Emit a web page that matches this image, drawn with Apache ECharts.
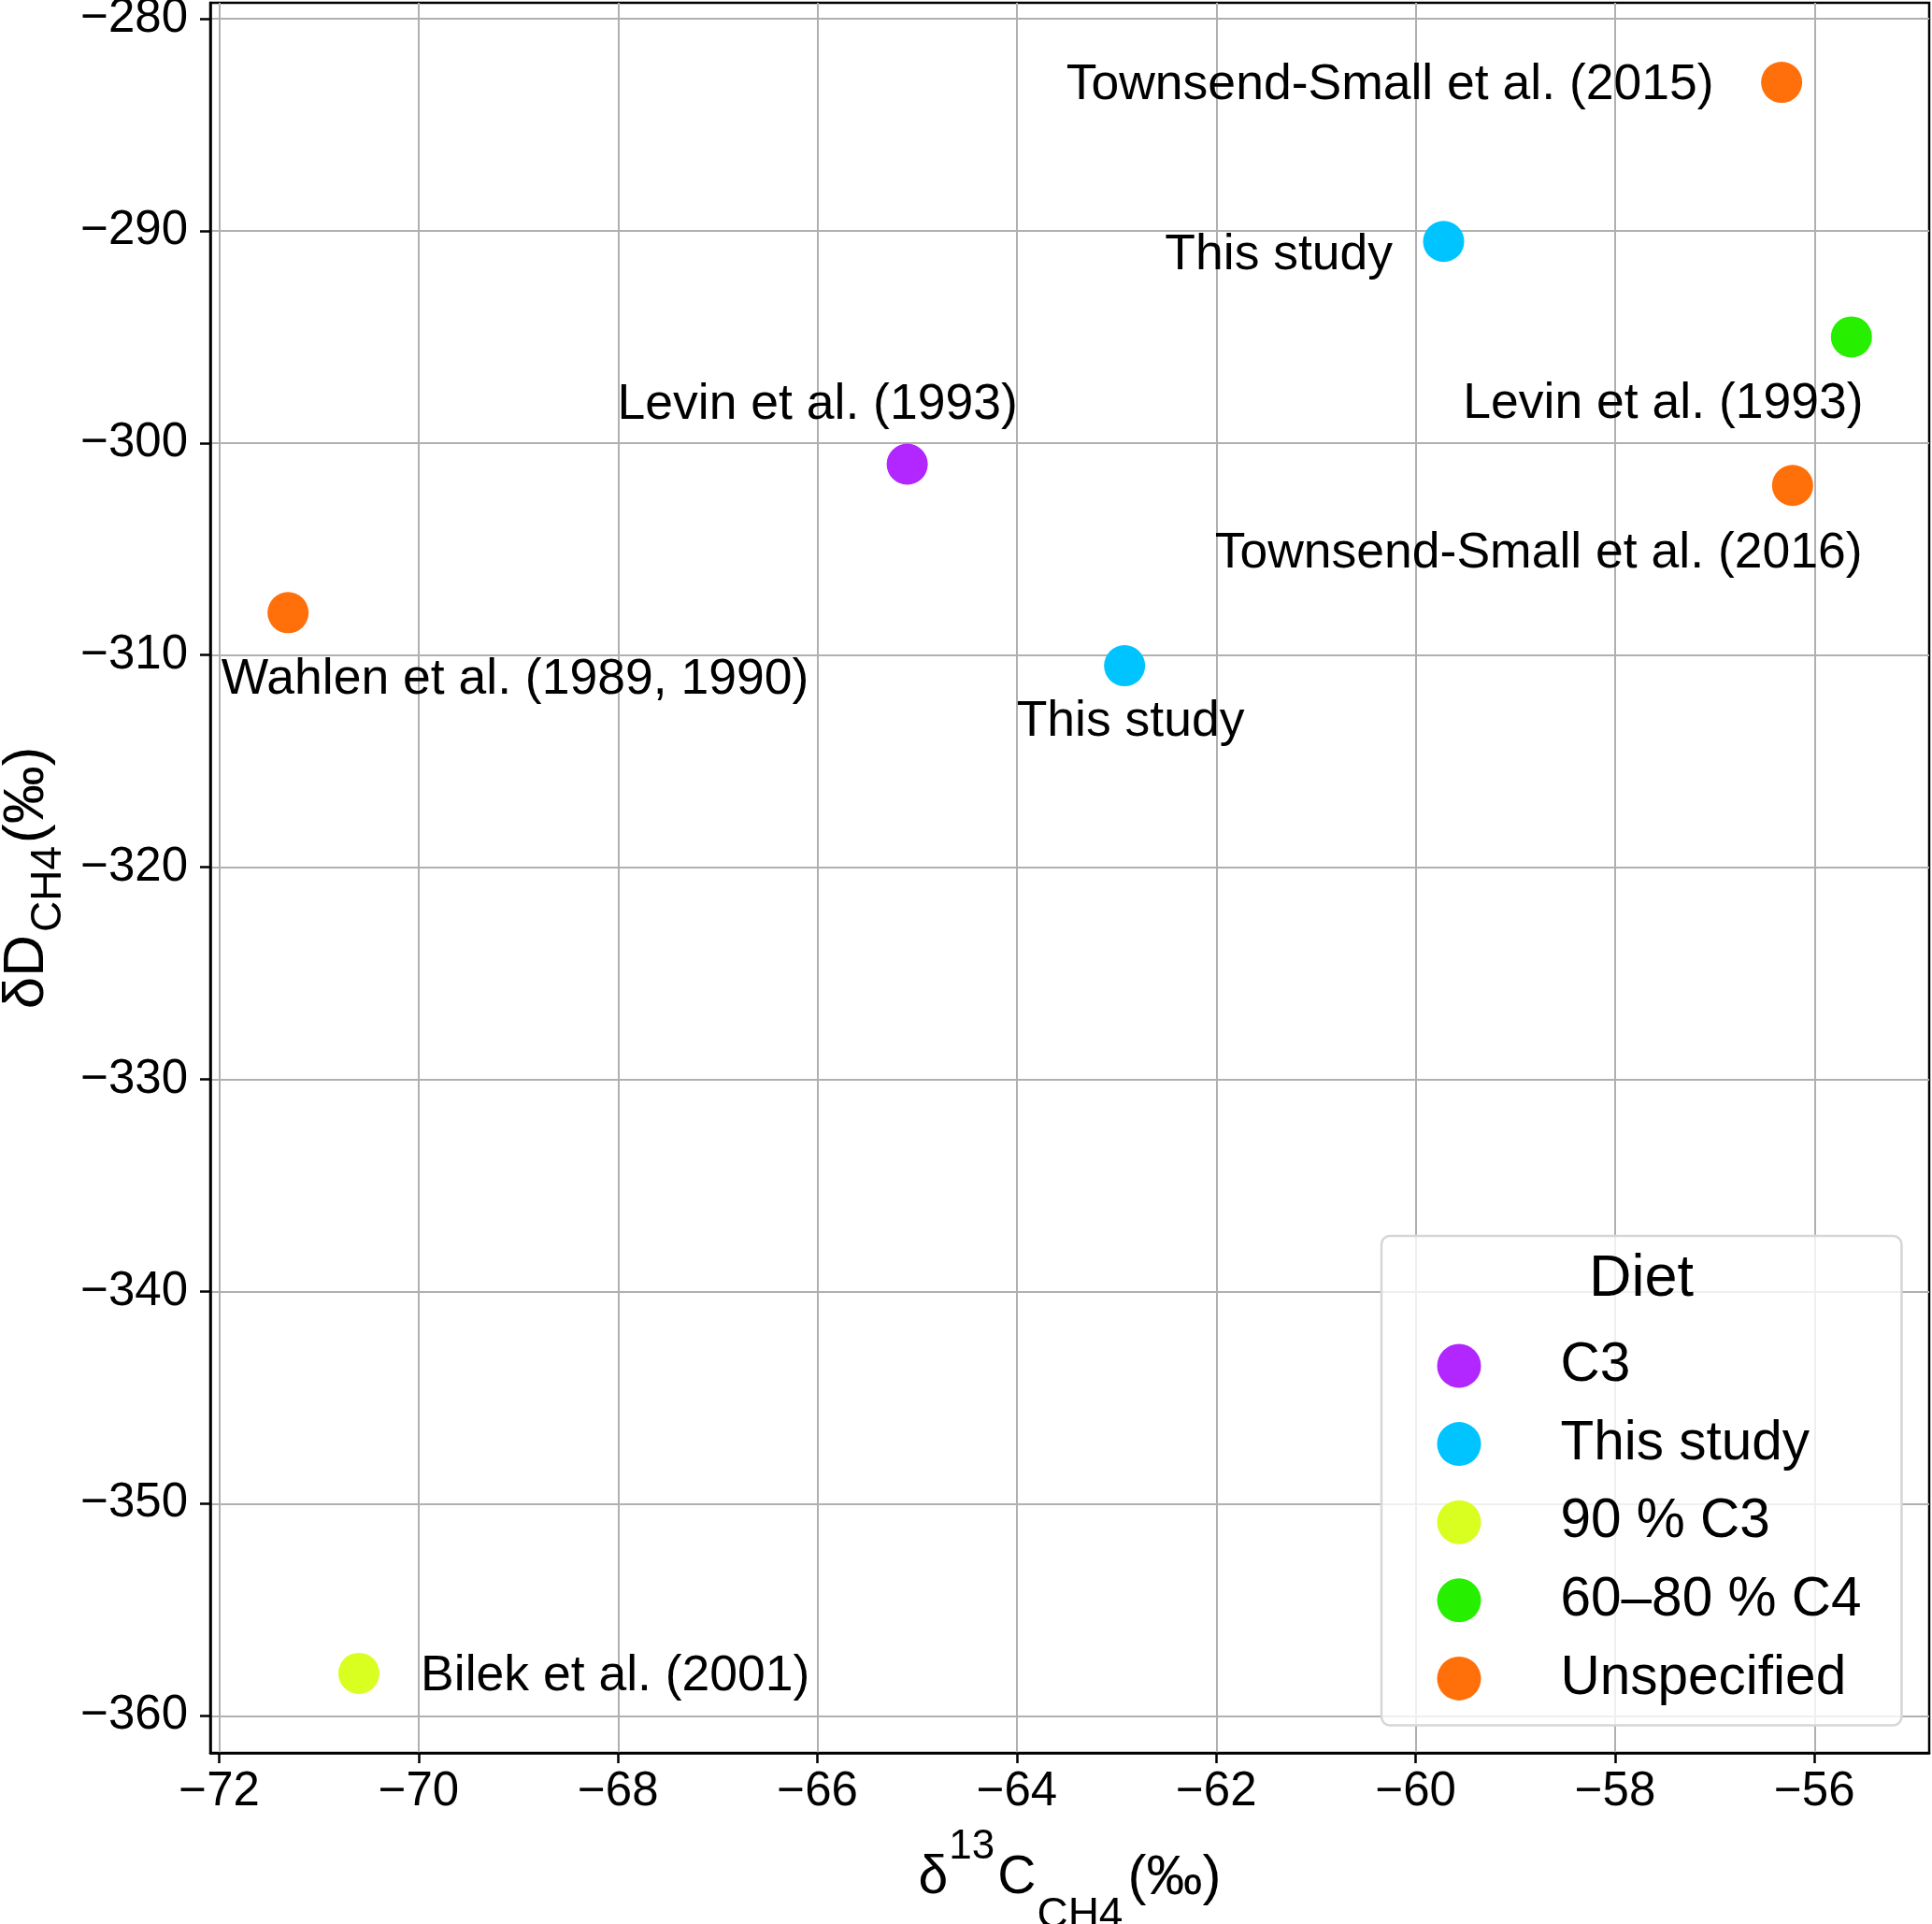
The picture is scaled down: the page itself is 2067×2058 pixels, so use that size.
<!DOCTYPE html>
<html>
<head>
<meta charset="utf-8">
<script src="https://cdn.jsdelivr.net/npm/echarts@6/dist/echarts.min.js"></script>
<style>
  html, body { margin: 0; padding: 0; background: #ffffff; }
  #chart { width: 2067px; height: 2058px; }
</style>
</head>
<body>
<div id="chart"></div>
<script>
// ---- data ----
const dietNames = ['C3', 'This study', '90 % C3', '60–80 % C4', 'Unspecified'];
const dietColors = ['#b226ff', '#00c4ff', '#d8ff1f', '#26ef00', '#ff6f0a'];
const c3Points = [[-65.1, -301.0]];
const thisStudyPoints = [[-59.72, -290.5], [-62.92, -310.5]];
const c3_90Points = [[-70.6, -358.0]];
const c4Points = [[-55.63, -295.0]];
const unspecifiedPoints = [[-56.33, -283.0], [-56.22, -302.0], [-71.31, -308.0]];

const annoText = ['Townsend-Small et al. (2015)', 'This study', 'Levin et al. (1993)', 'Levin et al. (1993)',
                  'Townsend-Small et al. (2016)', 'Wahlen et al. (1989, 1990)', 'This study', 'Bilek et al. (2001)'];
const annoX = [-57.01, -60.23, -55.51, -66.0, -55.52, -71.98, -62.86, -69.98];
const annoY = [-283.16, -291.18, -298.16, -298.19, -305.22, -311.18, -313.17, -358.16];
const annoAnchor = ['right', 'right', 'right', 'center', 'right', 'left', 'center', 'left'];

const xTicks = [-72, -70, -68, -66, -64, -62, -60, -58, -56];
const yTicks = [-360, -350, -340, -330, -320, -310, -300, -290, -280];
const xRange = [-72.09, -54.85];
const yRange = [-361.75, -279.25];

// ---- chart ----
const FONT = "'Liberation Sans', Arial, Helvetica, sans-serif";
const minus = v => String(v).replace('-', '\u2212');
const groups = [c3Points, thisStudyPoints, c3_90Points, c4Points, unspecifiedPoints];

const chart = echarts.init(document.getElementById('chart'), null, { renderer: 'canvas' });

const series = groups.map((pts, i) => ({
  name: dietNames[i],
  type: 'scatter',
  data: pts,
  symbol: 'circle',
  symbolSize: 44,
  itemStyle: { color: dietColors[i], opacity: 1 },
  emphasis: { disabled: true },
  z: 3
}));

series.push({
  name: 'annotations',
  type: 'scatter',
  silent: true,
  symbolSize: 0,
  itemStyle: { color: 'rgba(0,0,0,0)' },
  data: annoText.map((t, i) => ({
    value: [annoX[i], annoY[i]],
    name: t,
    label: { align: annoAnchor[i] }
  })),
  label: {
    show: true,
    position: [0, 0],
    formatter: p => p.name,
    color: '#000000',
    opacity: 1,
    textBorderWidth: 0,
    fontSize: 53.5,
    fontFamily: FONT,
    verticalAlign: 'middle'
  },
  emphasis: { disabled: true },
  z: 4
});

const option = {
  backgroundColor: '#ffffff',
  animation: false,
  grid: {
    left: 225, right: 3, top: 3, bottom: 183,
    show: true, borderColor: '#000', borderWidth: 2.5,
    backgroundColor: 'transparent',
    containLabel: false,
    outerBoundsMode: 'none'
  },
  xAxis: {
    type: 'value',
    min: xRange[0], max: xRange[1],
    splitNumber: 8,
    axisLine: { show: true, onZero: false, lineStyle: { color: '#000', width: 2.5 } },
    axisTick: { show: true, inside: false, length: 11, lineStyle: { color: '#000', width: 2.5 }, customValues: xTicks },
    axisLabel: { customValues: xTicks, formatter: minus, fontSize: 51, color: '#000', fontFamily: FONT, margin: 16 },
    splitLine: { show: true, lineStyle: { color: '#b0b0b0', width: 2 } },
    name: '{d|δ}{sup|13}{d|C}{sub|CH4}{p|(‰)}',
    nameLocation: 'middle',
    nameGap: 71,
    nameTextStyle: {
      color: '#000', fontFamily: FONT,
      rich: {
        d: { fontSize: 57, fontFamily: FONT, color: '#000', verticalAlign: 'middle' },
        p: { fontSize: 60, fontFamily: FONT, color: '#000', verticalAlign: 'middle', padding: [0, 0, 0, 3] },
        sup: { fontSize: 44, fontFamily: FONT, color: '#000', verticalAlign: 'middle', padding: [0, 3, 67, 1] },
        sub: { fontSize: 46, fontFamily: FONT, color: '#000', verticalAlign: 'middle', padding: [80, 2, 0, 1] }
      }
    }
  },
  yAxis: {
    type: 'value',
    min: yRange[0], max: yRange[1],
    splitNumber: 8,
    axisLine: { show: true, onZero: false, lineStyle: { color: '#000', width: 2.5 } },
    axisTick: { show: true, inside: false, length: 11, lineStyle: { color: '#000', width: 2.5 }, customValues: yTicks },
    axisLabel: { customValues: yTicks, formatter: minus, fontSize: 51, color: '#000', fontFamily: FONT, margin: 24 },
    splitLine: { show: true, lineStyle: { color: '#b0b0b0', width: 2 } },
    name: '{d|δD}{sub|CH4}{d|(‰)}',
    nameLocation: 'middle',
    nameGap: 150,
    nameTextStyle: {
      color: '#000', fontFamily: FONT,
      rich: {
        d: { fontSize: 62, fontFamily: FONT, color: '#000', verticalAlign: 'middle' },
        sub: { fontSize: 46, fontFamily: FONT, color: '#000', verticalAlign: 'middle', padding: [47, 3, 0, 3] }
      }
    }
  },
  legend: {
    data: dietNames,
    orient: 'vertical',
    left: 1478, top: 1322,
    icon: 'circle',
    itemWidth: 47, itemHeight: 47,
    itemGap: 23.6,
    padding: [109, 43, 20, 59.5],
    backgroundColor: 'rgba(255,255,255,0.8)',
    borderColor: '#d6d6d6', borderWidth: 2.5, borderRadius: 9,
    selectedMode: false,
    textStyle: { fontSize: 58.5, color: '#000', fontFamily: FONT, lineHeight: 60, padding: [0, 0, 0, 80] },
    z: 10
  },
  graphic: [{
    type: 'text',
    left: 1757 - 57, top: 1369 - 32,
    z: 100,
    style: { text: 'Diet', fontSize: 63, fontFamily: FONT, fill: '#000', textAlign: 'left', textVerticalAlign: 'top' }
  }],
  series: series
};

chart.setOption(option);
</script>
</body>
</html>
